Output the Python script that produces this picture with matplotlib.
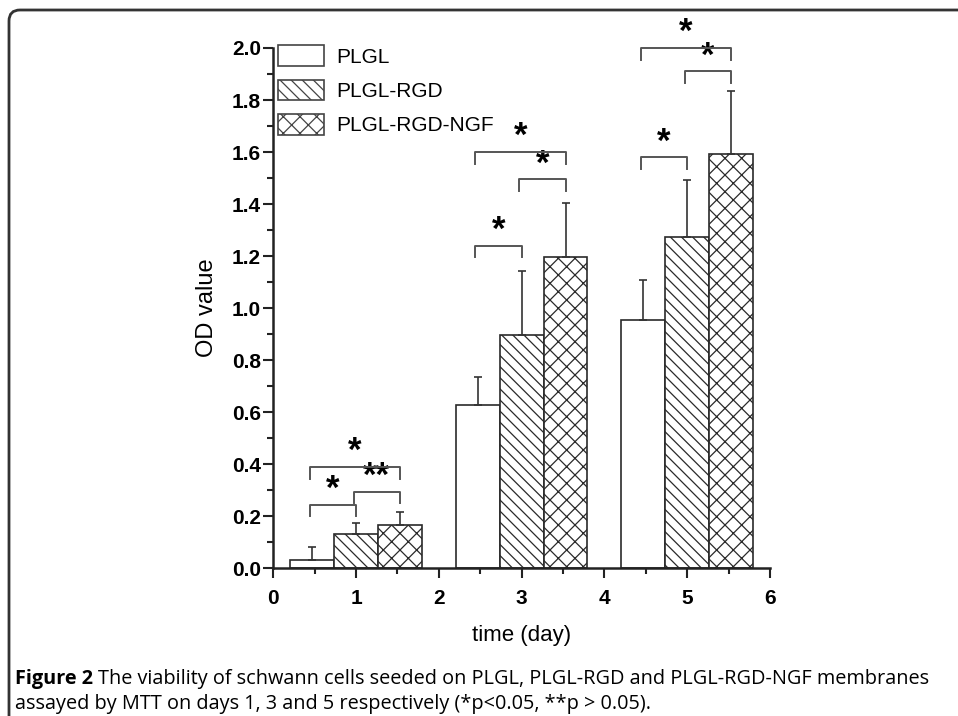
import matplotlib
matplotlib.use("Agg")
import matplotlib.pyplot as plt
import numpy as np
from matplotlib.patches import FancyBboxPatch, Patch
from matplotlib.ticker import MultipleLocator

# data
days = [1, 3, 5]
groups = ["PLGL", "PLGL-RGD", "PLGL-RGD-NGF"]
means = {
    "PLGL": [0.032, 0.628, 0.955],
    "PLGL-RGD": [0.133, 0.898, 1.275],
    "PLGL-RGD-NGF": [0.167, 1.198, 1.592],
}
sds = {
    "PLGL": [0.050, 0.107, 0.155],
    "PLGL-RGD": [0.040, 0.245, 0.218],
    "PLGL-RGD-NGF": [0.050, 0.205, 0.243],
}
hatches = {"PLGL": "", "PLGL-RGD": "\\\\\\", "PLGL-RGD-NGF": "xx"}

# significance brackets: (day, group a, group b, bracket height, label)
brackets = [
    (1, 0, 1, 0.245, "*"),
    (1, 1, 2, 0.295, "**"),
    (1, 0, 2, 0.390, "*"),
    (3, 0, 1, 1.240, "*"),
    (3, 1, 2, 1.495, "*"),
    (3, 0, 2, 1.600, "*"),
    (5, 0, 1, 1.580, "*"),
    (5, 1, 2, 1.910, "*"),
    (5, 0, 2, 2.000, "*"),
]

narrow = ["Liberation Sans Narrow", "Liberation Sans", "DejaVu Sans"]
arial = ["Liberation Sans", "DejaVu Sans"]
plt.rcParams["hatch.linewidth"] = 0.9

fig = plt.figure(figsize=(9.58, 7.16), dpi=100)
ax = fig.add_axes([0.2853, 0.2063, 0.5185, 0.7267])

w = 0.53
edge = "#2a2a2a"
for i, g in enumerate(groups):
    xs = np.array(days) + (i - 1) * w
    ax.bar(xs, means[g], width=w, color="white", edgecolor=edge,
           hatch=hatches[g], linewidth=1.2, label=g, zorder=2)
    ax.errorbar(xs, means[g], yerr=[np.zeros(3), sds[g]], fmt="none",
                ecolor="#333333", elinewidth=1.2, capsize=3, capthick=1.2,
                zorder=3)

for d, a, b, h, lab in brackets:
    xa = d + (a - 1) * w - 0.03
    xb = d + (b - 1) * w
    leg = 0.045
    ax.plot([xa, xa, xb, xb], [h - leg, h, h, h - leg], color="#555555",
            lw=1.4, clip_on=False, zorder=4)
    ax.text((xa + xb) / 2, h - 0.005, lab, ha="center", va="bottom",
            fontsize=25, fontweight="bold", family=arial, clip_on=False)

ax.set_xlim(0, 6)
ax.set_ylim(0, 2.0)
ax.xaxis.set_major_locator(MultipleLocator(1))
ax.xaxis.set_minor_locator(MultipleLocator(0.5))
ax.yaxis.set_major_locator(MultipleLocator(0.2))
ax.yaxis.set_minor_locator(MultipleLocator(0.1))
ax.yaxis.set_major_formatter(matplotlib.ticker.FormatStrFormatter("%.1f"))
for s in ["top", "right"]:
    ax.spines[s].set_visible(False)
for s in ["left", "bottom"]:
    ax.spines[s].set_linewidth(1.8)
    ax.spines[s].set_color("#222222")
ax.tick_params(which="major", length=7, width=1.5, color="#222222")
ax.tick_params(which="minor", length=4, width=1.5, color="#222222")
ax.tick_params(axis="y", pad=2)
ax.tick_params(axis="x", pad=8)
for t in ax.get_xticklabels() + ax.get_yticklabels():
    t.set_family(narrow)
    t.set_fontweight("bold")
    t.set_fontsize(15)

ax.set_ylabel("OD value", family=arial, fontsize=17, labelpad=10)
ax.set_xlabel("time (day)", family=narrow, fontsize=16, labelpad=12)

handles = [Patch(facecolor="white", edgecolor="#444444", hatch=hatches[g],
                 linewidth=1.2) for g in groups]
ax.legend(handles, groups, loc="upper left", bbox_to_anchor=(0.01, 1.005),
          frameon=False, handlelength=2.2, handleheight=1.15,
          handletextpad=0.6, labelspacing=0.62, borderpad=0, borderaxespad=0,
          prop={"family": arial, "size": 15})

# rounded border around the figure panel
border = FancyBboxPatch((9, -60), 1100, 766, boxstyle="round,pad=0,rounding_size=11",
                        transform=None, fill=False, edgecolor="#333333", lw=2)
fig.patches.append(border)

# caption
cap_font = ["Open Sans", "DejaVu Sans"]
cap_size = 14.3
y1 = 1 - 679 / 716
y2 = 1 - 704 / 716
t1 = fig.text(15 / 958, y1, "Figure 2", fontsize=cap_size, fontweight="bold",
              family=cap_font, va="center", ha="left")
fig.canvas.draw()
bb = t1.get_window_extent()
fig.text((bb.x1 + 5) / 958, y1,
         "The viability of schwann cells seeded on PLGL, PLGL-RGD and PLGL-RGD-NGF membranes",
         fontsize=cap_size, family=cap_font, va="center", ha="left")
fig.text(15 / 958, y2,
         "assayed by MTT on days 1, 3 and 5 respectively (*p<0.05, **p > 0.05).",
         fontsize=cap_size, family=cap_font, va="center", ha="left")

fig.savefig("out.png", dpi=100)
